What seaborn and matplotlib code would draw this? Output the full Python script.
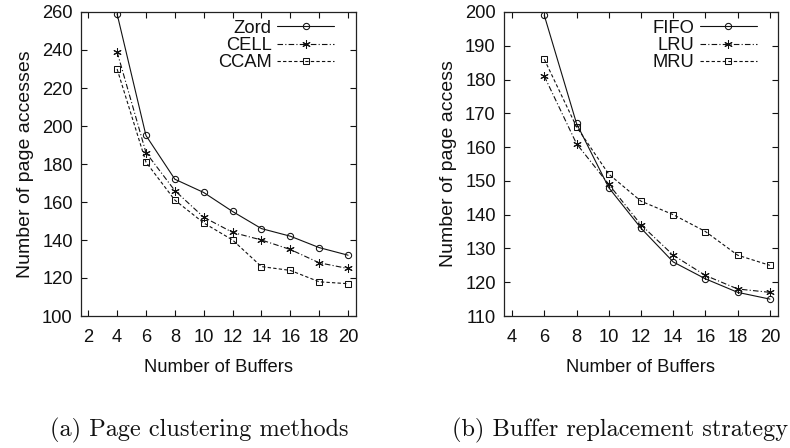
import matplotlib
matplotlib.use("Agg")
import matplotlib.pyplot as plt
import seaborn as sns
import pandas as pd

# ---- data ----
buffers_a = [4, 6, 8, 10, 12, 14, 16, 18, 20]
zord = [259, 195, 172, 165, 155, 146, 142, 136, 132]
cell = [239, 186, 166, 152, 144, 140, 135, 128, 125]
ccam = [230, 181, 161, 149, 140, 126, 124, 118, 117]

buffers_b = [6, 8, 10, 12, 14, 16, 18, 20]
fifo = [199, 167, 148, 136, 126, 121, 117, 115]
lru = [181, 161, 149, 137, 128, 122, 118, 117]
mru = [186, 166, 152, 144, 140, 135, 128, 125]

xticks_a = [2, 4, 6, 8, 10, 12, 14, 16, 18, 20]
yticks_a = [100, 120, 140, 160, 180, 200, 220, 240, 260]
xticks_b = [4, 6, 8, 10, 12, 14, 16, 18, 20]
yticks_b = [110, 120, 130, 140, 150, 160, 170, 180, 190, 200]

sns.set_style("ticks")
plt.rcParams["font.family"] = ["Liberation Sans", "DejaVu Sans"]
plt.rcParams["text.color"] = "#111111"
plt.rcParams["axes.labelcolor"] = "#111111"
plt.rcParams["xtick.color"] = "#111111"
plt.rcParams["ytick.color"] = "#111111"

FS = 13.2
FS_Y = 14
ASTER = (6, 2, 0)

fig = plt.figure(figsize=(7.9, 4.48), dpi=100)
ax1 = fig.add_axes([81 / 790, 1 - 316 / 448, 275 / 790, 304 / 448])
ax2 = fig.add_axes([504 / 790, 1 - 316 / 448, 274 / 790, 304 / 448])

def long_df(x, series):
    rows = []
    for name, vals in series:
        for xi, yi in zip(x, vals):
            rows.append({"x": xi, "y": yi, "s": name})
    return pd.DataFrame(rows)

styles = [
    dict(ls="-", marker="o", ms=4.5),
    dict(ls=(0, (5, 2, 1, 2)), marker=ASTER, ms=6),
    dict(ls=(0, (3, 2)), marker="s", ms=4.8),
]

def draw(ax, x, series, xlim, ylim, xt, yt, ylabel, legend_x):
    df = long_df(x, series)
    for (name, _), st in zip(series, styles):
        sub = df[df["s"] == name]
        sns.lineplot(data=sub, x="x", y="y", ax=ax, color="#111111", lw=0.8,
                     linestyle=st["ls"], marker=st["marker"], markersize=st["ms"],
                     markerfacecolor="none", markeredgecolor="#111111",
                     markeredgewidth=0.75, label=name)
    ax.set_xlim(*xlim)
    ax.set_ylim(*ylim)
    ax.set_xticks(xt)
    ax.set_yticks(yt)
    ax.tick_params(direction="in", top=True, right=True, length=4, width=0.8,
                   labelsize=FS, pad=9.5)
    ax.tick_params(axis="y", pad=6)
    for sp in ax.spines.values():
        sp.set_linewidth(0.9)
        sp.set_color("#222222")
    ax.set_xlabel("Number of Buffers", fontsize=FS, labelpad=9)
    ax.set_ylabel(ylabel, fontsize=FS_Y, labelpad=6)
    ax.legend(loc="upper right", bbox_to_anchor=(legend_x, 0.975),
              frameon=False, markerfirst=False, fontsize=FS,
              handlelength=3.1, handletextpad=0.3, labelspacing=0.02,
              borderpad=0, borderaxespad=0)

draw(ax1, buffers_a, [("Zord", zord), ("CELL", cell), ("CCAM", ccam)],
     (1.5, 20.55), (100, 260), xticks_a, yticks_a, "Number of page accesses", 0.92)
draw(ax2, buffers_b, [("FIFO", fifo), ("LRU", lru), ("MRU", mru)],
     (3.5, 20.5), (110, 200), xticks_b, yticks_b, "Number of page access", 0.923)

fig.text(199 / 790, 1 - 430 / 448, "(a) Page clustering methods", ha="center",
         va="center", fontsize=17.5, family=["cmr10", "DejaVu Serif"])
fig.text(620 / 790, 1 - 430 / 448, "(b) Buffer replacement strategy", ha="center",
         va="center", fontsize=17.5, family=["cmr10", "DejaVu Serif"])

fig.savefig("out.png", dpi=100)
